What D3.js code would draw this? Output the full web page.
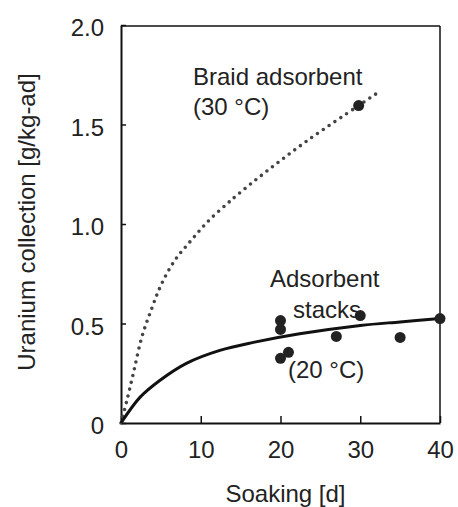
<!DOCTYPE html>
<html>
<head>
<meta charset="utf-8">
<script src="https://cdn.jsdelivr.net/npm/d3@7"></script>
<style>
  body { margin: 0; background: #fff; }
  svg { display: block; }
  text { font-family: Arial, "Liberation Sans", sans-serif; fill: #222; }
</style>
</head>
<body>
<svg width="458" height="507"></svg>
<script>
// measured points, adsorbent stacks (20 C)
const stackDays = [20, 20, 20, 21, 27, 30, 35, 40];
const stackUranium = [0.515, 0.47, 0.325, 0.355, 0.435, 0.54, 0.43, 0.525];

// braid adsorbent point (30 C)
const braidDays = [29.8];
const braidUranium = [1.595];

// fitted curves
const stackFitDays = [0, 2.4, 4.9, 8.2, 12.4, 16.6, 22.4, 30, 35, 40];
const stackFitUranium = [0, 0.13, 0.215, 0.3, 0.365, 0.405, 0.448, 0.49, 0.508, 0.525];
const braidFitDays = [0, 0.7, 1.55, 2.6, 3.85, 5.1, 6.8, 8.85, 10.95, 13.25, 14.7, 18.1, 23.4, 29.8, 32.2];
const braidFitUranium = [0, 0.107, 0.25, 0.43, 0.575, 0.7, 0.82, 0.92, 1.015, 1.1, 1.15, 1.26, 1.42, 1.595, 1.66];

const xTicks = [0, 10, 20, 30, 40];
const yTicks = [0, 0.5, 1.0, 1.5, 2.0];

const svg = d3.select('svg');

const x = d3.scaleLinear().domain([0, 40]).range([121, 440]);
const y = d3.scaleLinear().domain([0, 2]).range([423, 25]);

// frame
svg.append('line')
  .attr('x1', x(0)).attr('x2', x(40))
  .attr('y1', y(2) + 1).attr('y2', y(2) + 1)
  .attr('stroke', '#111').attr('stroke-width', 1.5);
svg.append('line')
  .attr('x1', x(40)).attr('x2', x(40))
  .attr('y1', y(2) + 1).attr('y2', y(0))
  .attr('stroke', '#111').attr('stroke-width', 1.5);

const xAxis = svg.append('g')
  .attr('transform', `translate(0,${y(0)})`)
  .call(d3.axisBottom(x).tickValues(xTicks).tickSizeInner(-7).tickSizeOuter(0).tickPadding(18)
    .tickFormat(d3.format('d')));

const yAxis = svg.append('g')
  .attr('transform', `translate(${x(0)},0)`)
  .call(d3.axisLeft(y).tickValues(yTicks).tickSizeInner(-5).tickSizeOuter(0).tickPadding(17)
    .tickFormat(d => d === 0 ? '0' : d3.format('.1f')(d)));

[xAxis, yAxis].forEach(g => {
  g.select('.domain').attr('stroke', '#111').attr('stroke-width', 2);
  g.selectAll('.tick line').attr('stroke', '#111').attr('stroke-width', 1.5);
  g.selectAll('.tick text').attr('font-size', 24).attr('fill', '#2a2a2a')
    .attr('font-family', 'Arial, "Liberation Sans", sans-serif');
});
yAxis.selectAll('.tick text').attr('dy', '0.45em');

// curves
const line = d3.line().x(d => x(d[0])).y(d => y(d[1])).curve(d3.curveCatmullRom.alpha(0.5));

svg.append('path')
  .datum(braidFitDays.map((d, i) => [d, braidFitUranium[i]]))
  .attr('d', line)
  .attr('fill', 'none')
  .attr('stroke', '#444')
  .attr('stroke-width', 3.6)
  .attr('stroke-linecap', 'round')
  .attr('stroke-dasharray', '0 7');

svg.append('path')
  .datum(stackFitDays.map((d, i) => [d, stackFitUranium[i]]))
  .attr('d', line)
  .attr('fill', 'none')
  .attr('stroke', '#111')
  .attr('stroke-width', 3);

// points
svg.append('g').selectAll('circle')
  .data(stackDays.map((d, i) => [d, stackUranium[i]])
    .concat(braidDays.map((d, i) => [d, braidUranium[i]])))
  .join('circle')
  .attr('cx', d => x(d[0]))
  .attr('cy', d => y(d[1]))
  .attr('r', 5.5)
  .attr('fill', '#222');

// labels
const notes = [
  { t: 'Braid adsorbent', x: 193, y: 85 },
  { t: '(30 °C)', x: 193, y: 115 },
  { t: 'Adsorbent', x: 270, y: 287 },
  { t: 'stacks', x: 293, y: 318 },
  { t: '(20 °C)', x: 288, y: 378 }
];
svg.append('g').selectAll('text')
  .data(notes)
  .join('text')
  .attr('x', d => d.x)
  .attr('y', d => d.y)
  .attr('font-size', 24)
  .attr('fill', '#2a2a2a')
  .text(d => d.t);

svg.append('text')
  .attr('x', x(20) + 5)
  .attr('y', 502)
  .attr('text-anchor', 'middle')
  .attr('font-size', 24)
  .attr('fill', '#2a2a2a')
  .text('Soaking [d]');

svg.append('text')
  .attr('transform', 'translate(35,222) rotate(-90)')
  .attr('text-anchor', 'middle')
  .attr('font-size', 24)
  .attr('fill', '#2a2a2a')
  .text('Uranium collection [g/kg-ad]');
</script>
</body>
</html>
